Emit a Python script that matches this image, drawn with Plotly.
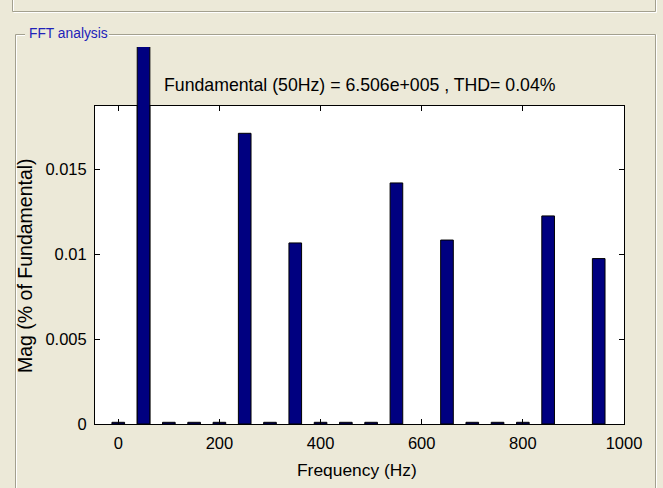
import plotly.graph_objects as go

# ---------------- data ----------------
freq = [0, 50, 100, 150, 200, 250, 300, 350, 400, 450, 500,
        550, 600, 650, 700, 750, 800, 850, 900, 950, 1000]
mag = [0.0001, 100, 0.0001, 0.0001, 0.0001, 0.0171, 0.0001, 0.01065, 0.0001, 0.0001, 0.0001,
       0.01418, 0.0, 0.01082, 0.0001, 0.0001, 0.0001, 0.01224, 0.0, 0.00973, 0.0]
fund_freq = 50
x_ticks = [0, 200, 400, 600, 800, 1000]
y_ticks = [0, 0.005, 0.01, 0.015]
y_tick_text = ["0", "0.005", "0.01", "0.015"]
title_text = "Fundamental (50Hz) = 6.506e+005 , THD= 0.04%"
x_label = "Frequency (Hz)"
y_label = "Mag (% of Fundamental)"
panel_title = "FFT analysis"

# ---------------- geometry / style ----------------
W, H = 663, 488
L, R, T, B = 95, 624, 47, 424
TOPAX = 105.7
XRANGE = [-46, 1000]
YMAX = 0.018724
FONT = "Liberation Sans, Arial, sans-serif"
BG = "#ECE9D8"
BAR = "#000080"
DARK = "#A3A08F"


def px(x):
    return (x - L) / (R - L)


def py(y):
    return (B - y) / (B - T)


dom_top = py(TOPAX)
fund_mag = mag[freq.index(fund_freq)]
edge_w = [1 if v > 0 else 0 for v in mag]

fig = go.Figure()
fig.add_trace(go.Bar(x=freq, y=mag, width=25, xaxis="x", yaxis="y",
                     marker=dict(color=BAR, line=dict(color="black", width=edge_w)),
                     showlegend=False, hoverinfo="x+y"))
fig.add_trace(go.Bar(x=[fund_freq], y=[fund_mag], width=25, xaxis="x2", yaxis="y2",
                     marker=dict(color=BAR, line=dict(color="black", width=1)),
                     showlegend=False, hoverinfo="skip"))

shapes = []
# white axes background
shapes.append(dict(type="rect", xref="paper", yref="paper", x0=0, x1=1, y0=0, y1=dom_top,
                   fillcolor="white", line=dict(width=0), layer="below"))


def hline(x0, x1, y, color):
    shapes.append(dict(type="line", xref="paper", yref="paper",
                       x0=px(x0), x1=px(x1), y0=py(y), y1=py(y),
                       line=dict(color=color, width=1), layer="below"))


def vline(x, y0, y1, color):
    shapes.append(dict(type="line", xref="paper", yref="paper",
                       x0=px(x), x1=px(x), y0=py(y0), y1=py(y1),
                       line=dict(color=color, width=1), layer="below"))


# upper (previous) panel bottom
vline(12.5, 0, 11.5, DARK); vline(13.5, 0, 11.5, "white")
hline(12.5, 655.5, 11.5, DARK); hline(13.5, 656.5, 12.5, "white")
vline(655.5, 0, 11.5, DARK); vline(656.5, 0, 12.5, "white")
# FFT analysis panel
PT = 34.5
hline(15.5, 25, PT, DARK); hline(16.5, 25, PT + 1, "white")
hline(109, 655.5, PT, DARK); hline(109, 654.5, PT + 1, "white")
vline(15.5, PT, 488, DARK); vline(16.5, PT + 1, 488, "white")
vline(655.5, PT, 488, DARK); vline(656.5, PT, 488, "white")

annotations = [
    dict(text=title_text, xref="paper", yref="paper", x=px(162), y=py(85),
         xanchor="left", yanchor="middle", showarrow=False,
         font=dict(family=FONT, size=17.7, color="black")),
    dict(text=x_label, xref="paper", yref="paper", x=px(357), y=py(470),
         xanchor="center", yanchor="middle", showarrow=False,
         font=dict(family=FONT, size=17.4, color="black")),
    dict(text=y_label, xref="paper", yref="paper", x=px(25), y=py(266),
         xanchor="center", yanchor="middle", showarrow=False, textangle=-90,
         font=dict(family=FONT, size=19.5, color="black")),
    dict(text=panel_title, xref="paper", yref="paper", x=px(27), y=py(33),
         xanchor="left", yanchor="middle", showarrow=False,
         font=dict(family=FONT, size=13.8, color="#2222B8")),
]

axis_common = dict(showgrid=False, zeroline=False, showline=True, linecolor="black",
                   linewidth=1, ticks="inside", ticklen=5, tickcolor="black",
                   mirror="ticks", tickfont=dict(family=FONT, size=16.5, color="black"))

fig.update_layout(
    width=W, height=H,
    margin=dict(l=L, r=W - R, t=T, b=H - B, pad=0),
    paper_bgcolor=BG, plot_bgcolor="rgba(0,0,0,0)",
    showlegend=False,
    xaxis=dict(domain=[0, 1], range=XRANGE, anchor="y", tickvals=x_ticks,
               ticktext=[str(v) for v in x_ticks], ticklabelstandoff=4, **axis_common),
    yaxis=dict(domain=[0, dom_top], range=[0, YMAX], anchor="x", tickvals=y_ticks,
               ticktext=y_tick_text, ticklabelstandoff=4, **axis_common),
    xaxis2=dict(domain=[0, 1], range=XRANGE, anchor="y2", visible=False),
    yaxis2=dict(domain=[0, 1], range=[0, YMAX / dom_top], anchor="x2", visible=False),
    shapes=shapes,
    annotations=annotations,
)

fig.write_html("out.html")
